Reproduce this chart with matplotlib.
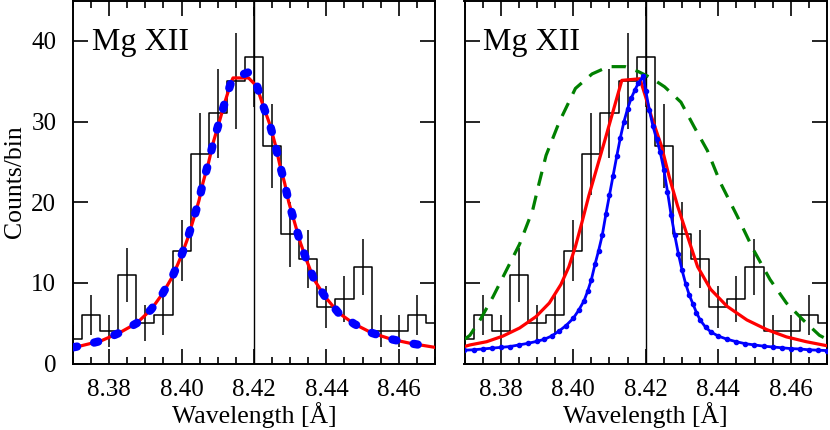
import numpy as np
import matplotlib.pyplot as plt
from matplotlib.ticker import MultipleLocator

plt.rcParams['font.family'] = ['Liberation Serif', 'DejaVu Serif']

# observed spectrum, bin centres and counts
wl_bins = [8.370, 8.375, 8.380, 8.385, 8.390, 8.395, 8.400, 8.405, 8.410, 8.415,
           8.420, 8.425, 8.430, 8.435, 8.440, 8.445, 8.450, 8.455, 8.460, 8.465, 8.470]
counts = [3, 6, 4, 11, 5, 6, 14, 26, 31, 35, 38, 27, 16, 13, 7, 8, 12, 4, 4, 6, 5]

# left panel models
left_red_wl = [8.370, 8.3723, 8.3777, 8.3828, 8.3876, 8.3916, 8.3948, 8.3975, 8.3998, 8.4016,
               8.4033, 8.4048, 8.4059, 8.4075, 8.4088, 8.4105, 8.4121, 8.4137, 8.4142, 8.4185,
               8.4207, 8.4225, 8.4244, 8.4259, 8.4271, 8.4285, 8.4296, 8.4312, 8.4328, 8.4346,
               8.4366, 8.4396, 8.4433, 8.4477, 8.4525, 8.4580, 8.4632, 8.470]
left_red = [2.0, 2.2, 2.8, 3.8, 5.0, 6.7, 8.7, 10.8, 13.2, 15.4,
            17.9, 20.2, 22.4, 25.0, 27.5, 30.1, 32.6, 34.9, 35.4, 35.4,
            34.4, 32.0, 29.6, 27.1, 24.7, 22.3, 20.0, 17.5, 15.0, 12.7,
            10.4, 8.3, 6.3, 4.9, 3.8, 3.0, 2.5, 2.0]
left_blue_wl = [8.370, 8.3723, 8.3777, 8.3828, 8.3876, 8.3916, 8.3948, 8.3975, 8.3998, 8.4016,
                8.4033, 8.4048, 8.4059, 8.4075, 8.4088, 8.4105, 8.4121, 8.4137, 8.4160, 8.4185,
                8.4207, 8.4225, 8.4244, 8.4259, 8.4271, 8.4285, 8.4296, 8.4312, 8.4328, 8.4346,
                8.4366, 8.4396, 8.4433, 8.4477, 8.4525, 8.4580, 8.4632, 8.470]
left_blue = [2.0, 2.2, 2.8, 3.8, 5.0, 6.7, 8.7, 10.8, 13.2, 15.4,
             17.9, 20.2, 22.4, 25.0, 27.5, 30.1, 32.6, 34.9, 35.7, 36.1,
             34.6, 32.0, 29.6, 27.1, 24.7, 22.3, 20.0, 17.5, 15.0, 12.7,
             10.4, 8.3, 6.3, 4.9, 3.8, 3.0, 2.5, 2.0]

# right panel models
right_red_wl = [8.370, 8.3715, 8.3761, 8.3806, 8.3852, 8.3897, 8.3934, 8.3966, 8.3988, 8.4006,
                8.4024, 8.4043, 8.4088, 8.4134, 8.4184, 8.4200, 8.4215, 8.4243, 8.4265, 8.4288,
                8.4315, 8.4343, 8.4379, 8.4424, 8.4479, 8.4534, 8.4588, 8.4643, 8.470]
right_red = [2.1, 2.3, 2.7, 3.4, 4.4, 5.8, 7.5, 9.8, 12.0, 14.5,
             17.5, 20.8, 27.8, 35.1, 35.3, 33.0, 30.7, 27.0, 23.1, 19.5,
             15.8, 12.0, 9.2, 7.1, 5.4, 4.2, 3.3, 2.7, 2.2]
right_blue_wl = [8.370, 8.3725, 8.375, 8.3775, 8.380, 8.3825, 8.385, 8.3875, 8.390, 8.392,
                 8.394, 8.396, 8.398, 8.400, 8.4015, 8.403, 8.404, 8.405, 8.406, 8.407,
                 8.408, 8.409, 8.410, 8.411, 8.412, 8.413, 8.414, 8.415, 8.416, 8.417,
                 8.418, 8.4193, 8.420, 8.421, 8.422, 8.423, 8.424, 8.425, 8.426, 8.427,
                 8.428, 8.429, 8.430, 8.431, 8.432, 8.433, 8.434, 8.435, 8.4365, 8.438,
                 8.440, 8.4425, 8.445, 8.4475, 8.450, 8.4525, 8.455, 8.4575, 8.460, 8.4625,
                 8.465, 8.4675, 8.470]
right_blue = [1.65, 1.7, 1.8, 1.9, 2.0, 2.1, 2.3, 2.5, 2.75, 3.0,
              3.4, 4.0, 4.7, 5.6, 6.6, 7.8, 9.0, 10.4, 12.3, 14.0,
              15.9, 18.5, 20.9, 23.3, 25.7, 28.0, 30.0, 31.6, 32.9, 33.9,
              34.8, 35.6, 33.8, 31.4, 29.4, 27.8, 26.2, 24.0, 21.3, 18.4,
              15.9, 13.6, 11.6, 9.9, 8.5, 7.4, 6.3, 5.4, 4.5, 3.9,
              3.4, 3.0, 2.7, 2.45, 2.3, 2.15, 2.05, 1.95, 1.85, 1.8,
              1.7, 1.65, 1.6]
right_green_wl = [8.370, 8.3715, 8.3743, 8.3779, 8.3816, 8.3852, 8.3888, 8.3906, 8.3925, 8.3961,
                  8.4006, 8.4052, 8.4097, 8.4143, 8.4179, 8.4215, 8.4252, 8.4297, 8.4334, 8.4370,
                  8.4406, 8.4452, 8.4497, 8.4543, 8.4588, 8.4634, 8.4679, 8.470]
right_green = [3.0, 3.5, 5.4, 8.3, 11.6, 14.8, 19.0, 22.4, 25.8, 29.9,
               34.1, 35.9, 36.8, 36.8, 36.2, 35.4, 34.3, 32.4, 29.3, 26.4,
               22.4, 18.3, 14.1, 10.4, 7.5, 5.4, 3.5, 3.0]

line_wl = 8.42
err = np.sqrt(counts)

fig = plt.figure(figsize=(8.3, 4.3), dpi=100)
ax1 = fig.add_axes([73/830, 66.5/430, 362/830, 363/430])
ax2 = fig.add_axes([464.5/830, 66.5/430, 362.5/830, 363/430])

for ax in (ax1, ax2):
    ax.step(wl_bins, counts, where='mid', color='black', lw=1.1, zorder=2)
    ax.errorbar(wl_bins, counts, yerr=err, fmt='none', ecolor='black', elinewidth=1.1, zorder=2)
    ax.axvline(line_wl, color='black', lw=1.0, zorder=2)
    ax.set_xlim(8.37, 8.47)
    ax.set_ylim(0, 45)
    ax.xaxis.set_major_locator(MultipleLocator(0.02))
    ax.xaxis.set_minor_locator(MultipleLocator(0.005))
    ax.yaxis.set_major_locator(MultipleLocator(10))
    ax.tick_params(which='both', direction='in', top=True, right=True, width=1.2)
    ax.tick_params(which='major', length=11)
    ax.tick_params(which='minor', length=5)
    ax.tick_params(axis='x', labelsize=18, pad=11)
    ax.tick_params(axis='y', labelsize=18, pad=12)
    for s in ax.spines.values():
        s.set_linewidth(1.4)
    ax.xaxis.set_major_formatter(plt.FormatStrFormatter('%.2f'))
    ax.set_xlabel('Wavelength [Å]', fontsize=18.5, labelpad=1)
    ax.text(0.052, 0.865, 'Mg XII', transform=ax.transAxes, fontsize=23, va='baseline')

ax1.plot(left_red_wl, left_red, color='red', lw=2.3, zorder=3)
ax1.plot(left_blue_wl, left_blue, color='blue', lw=6, linestyle=(0, (0.5, 2.1)),
         dash_capstyle='round', zorder=4)
ax1.set_ylabel('Counts/bin', fontsize=18.5, labelpad=4)

ax2.plot(right_green_wl, right_green, color='green', lw=2.3, linestyle=(0, (4.5, 3.2)), zorder=3)
ax2.plot(right_red_wl, right_red, color='red', lw=2.3, zorder=4)
ax2.plot(right_blue_wl, right_blue, color='blue', lw=2.0, marker='o', ms=3, zorder=5)
ax2.set_yticklabels([])

fig.savefig('out.png', dpi=100)
